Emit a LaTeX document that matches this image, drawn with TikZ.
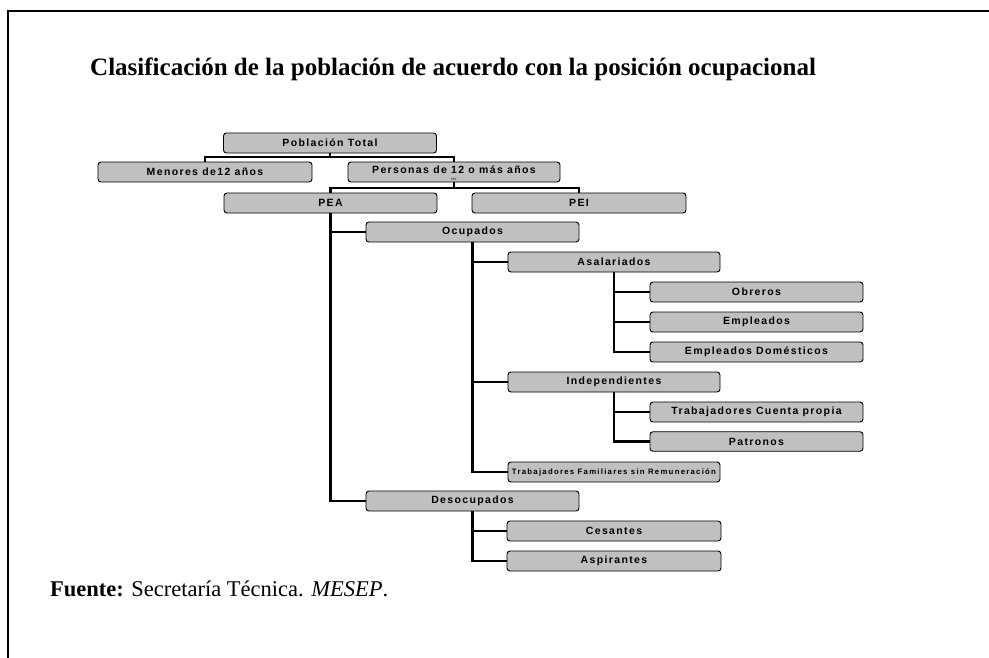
\documentclass[tikz,border=0pt]{standalone}
\usepackage{fontspec}
\setmainfont{Liberation Serif}
\newfontfamily\bxfont[LetterSpace=13]{Liberation Sans}
\newfontfamily\bxsmall[LetterSpace=16]{Liberation Sans}
\definecolor{boxgray}{RGB}{192,192,192}
\tikzset{
  box/.style={draw=black, line width=0.9pt, fill=boxgray, rounded corners=3pt,
    minimum height=20pt, minimum width=213pt, inner sep=0pt,
    font=\bxfont\bfseries\fontsize{10.5}{11}\selectfont},
  conn/.style={line width=2.4pt, draw=black},
}
\begin{document}
\begin{tikzpicture}[x=1pt,y=-1pt]
\useasboundingbox (0,0) rectangle (989,657);
\draw[line width=2pt] (8,700) -- (8,11) -- (1000,11);
\node[anchor=base west, inner sep=0pt, font=\bfseries\fontsize{25}{27}\selectfont] (title) at (90,75)
  {Clasificación de la población de acuerdo con la posición ocupacional};
\coordinate (c1) at (330,157);
\coordinate (c2) at (455,188);
\node[box] (pt) at (330,143) {Población Total};
\node[box, minimum width=214pt] (men) at (205,172) {Menores de12 años};
\node[box, minimum width=212pt] (per) at (454,172) {};
\node[font=\bxfont\bfseries\fontsize{10.5}{11}\selectfont, inner sep=0pt] (pertxt) at (454,169.5) {Personas de 12 o más años};
\node[font=\sffamily\fontsize{3}{3}\selectfont, inner sep=0pt] (pet) at (454,179.5) {PET};
\node[box] (pea) at (330.5,203) {PEA};
\node[box, minimum width=214pt] (pei) at (579,203) {PEI};
\node[box] (ocu) at (472.5,232) {Ocupados};
\node[box, minimum width=212pt] (asa) at (614,262) {Asalariados};
\node[box] (obr) at (756.5,292) {Obreros};
\node[box] (emp) at (756.5,322) {Empleados};
\node[box] (edo) at (756.5,352) {Empleados Domésticos};
\node[box, minimum width=212pt] (ind) at (614,382) {Independientes};
\node[box] (tcp) at (756.5,412) {Trabajadores Cuenta propia};
\node[box, minimum height=19.5pt] (pat) at (756.5,441.5) {Patronos};
\node[box, minimum width=212pt, font=\bxsmall\bfseries\fontsize{7.8}{8}\selectfont] (tfs) at (614,472) {Trabajadores Familiares sin Remuneración};
\node[box] (des) at (472.5,501) {Desocupados};
\node[box, minimum width=214pt] (ces) at (614,531) {Cesantes};
\node[box, minimum width=214pt] (asp) at (614,561) {Aspirantes};
\draw[conn] (pt.south) |- (c1) -| (men.north);
\draw[conn] (c1) -| (per.north);
\draw[conn] (per.south) |- (c2) -| (pea.north);
\draw[conn] (c2) -| (pei.north);
\draw[conn] (pea.south) |- (ocu.west);
\draw[conn] (pea.south) |- (des.west);
\draw[conn] (ocu.south) |- (asa.west);
\draw[conn] (ocu.south) |- (ind.west);
\draw[conn] (ocu.south) |- (tfs.west);
\draw[conn] (asa.south) |- (obr.west);
\draw[conn] (asa.south) |- (emp.west);
\draw[conn] (asa.south) |- (edo.west);
\draw[conn] (ind.south) |- (tcp.west);
\draw[conn] (ind.south) |- (pat.west);
\draw[conn] (des.south) |- (ces.west);
\draw[conn] (des.south) |- (asp.west);
\node[anchor=base west, inner sep=0pt, font=\fontsize{22.5}{24}\selectfont] (src) at (50,596)
  {\textbf{Fuente:} Secretaría Técnica. \textit{MESEP}.};
\end{tikzpicture}
\end{document}
